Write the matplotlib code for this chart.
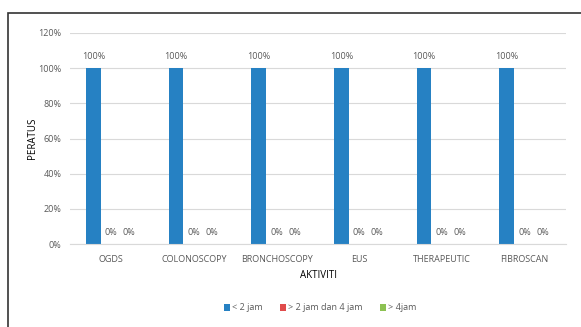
import matplotlib.pyplot as plt
import numpy as np
from matplotlib.patches import Rectangle

plt.rcParams['font.family'] = ['Open Sans', 'DejaVu Sans']

categories = ["OGDS", "COLONOSCOPY", "BRONCHOSCOPY", "EUS", "THERAPEUTIC", "FIBROSCAN"]
under_2 = [100, 100, 100, 100, 100, 100]
between_2_4 = [0, 0, 0, 0, 0, 0]
over_4 = [0, 0, 0, 0, 0, 0]
series_names = ["< 2 jam", "> 2 jam dan 4 jam", "> 4jam"]
colors = ["#2681c3", "#e04b4b", "#8cc152"]

W, H = 581, 327
fig = plt.figure(figsize=(W / 100, H / 100), dpi=100)
ax = fig.add_axes([70 / W, 1 - 244 / H, 496 / W, 211 / H])

x = np.arange(len(categories))
step = 0.218
width = 0.175
grey = "#595959"
for i, (vals, name, c) in enumerate(zip([under_2, between_2_4, over_4], series_names, colors)):
    bars = ax.bar(x + (i - 1) * step, vals, width, color=c, label=name)
    for b, v in zip(bars, vals):
        ax.text(b.get_x() + b.get_width() / 2, v + 3.8, f"{v}%", ha="center", va="bottom",
                fontsize=6.5, color=grey)

ax.set_xlim(-0.5, len(categories) - 0.5)
ax.set_ylim(0, 120)
ax.set_yticks(range(0, 121, 20))
ax.set_yticklabels([f"{t}%" for t in range(0, 121, 20)])
ax.set_xticks(x)
ax.set_xticklabels(categories)
ax.tick_params(axis="both", length=0, labelsize=6.5, colors=grey)
ax.tick_params(axis="x", pad=8)
ax.tick_params(axis="y", pad=6)
ax.yaxis.grid(True, color="#d9d9d9", linewidth=0.8)
ax.set_axisbelow(True)
for s in ["top", "right", "left"]:
    ax.spines[s].set_visible(False)
ax.spines["bottom"].set_color("#d9d9d9")

ax.set_xlabel("AKTIVITI", fontsize=7, color="black", labelpad=4)
ax.set_ylabel("PERATUS", fontsize=7, color="black", labelpad=0)

ax.legend(loc="center", bbox_to_anchor=(320 / W, 1 - 308 / H), bbox_transform=fig.transFigure,
          ncol=3, frameon=False, fontsize=6.5, labelcolor=grey, handlelength=0.7,
          handleheight=0.7, handletextpad=0.2, columnspacing=1.9)

# outer frame running off the right and bottom edges
fig.patches.append(Rectangle((8 / W, -0.1), 1.2, 1 - 13 / H + 0.1, transform=fig.transFigure,
                             fill=False, edgecolor="#333333", linewidth=1.2))

fig.savefig("out.png", dpi=100)
